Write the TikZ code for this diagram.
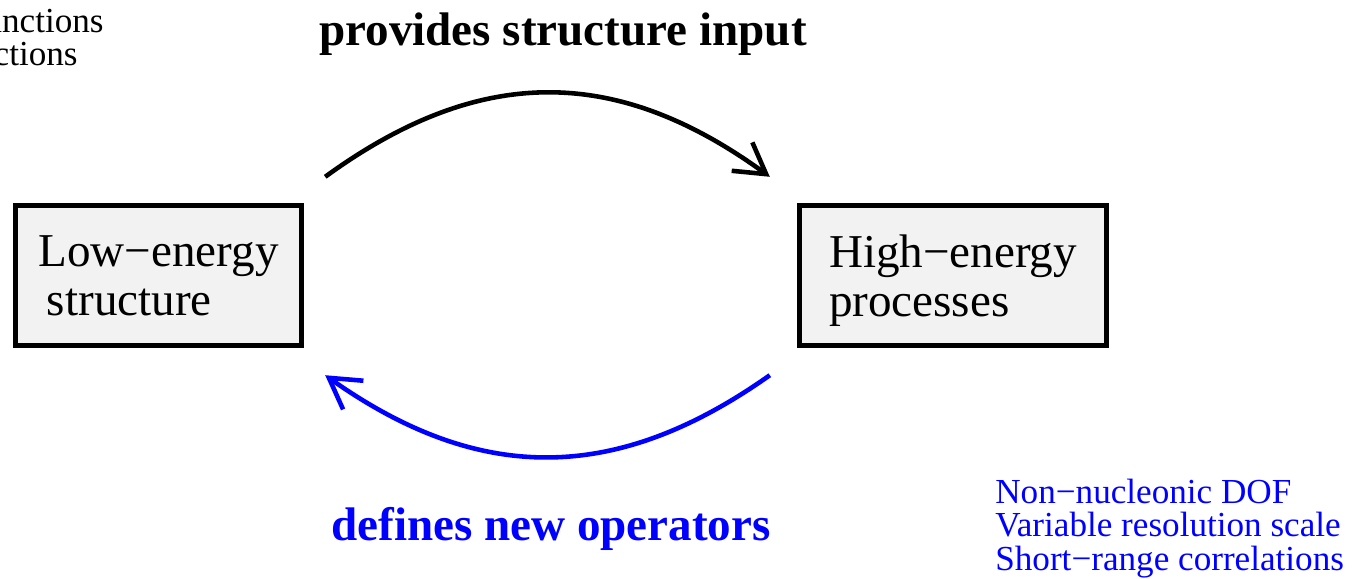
\documentclass[tikz,border=0pt]{standalone}
\usepackage{fontspec}
\setmainfont{Liberation Serif}
\usetikzlibrary{positioning,arrows.meta}
\tikzset{dbox/.style={draw, line width=3.1pt, fill=black!5, minimum height=2.8cm, align=left, inner sep=0pt, text depth=0pt, font=\fontsize{26.8}{27.8}\selectfont}}
\tikzset{arr/.style={draw, line width=2.6pt, -{Straight Barb[length=17pt,width=20pt]}}}
\tikzset{dlabel/.style={anchor=base, inner sep=0pt, font=\bfseries\fontsize{26.8}{27.2}\selectfont}}
\tikzset{dlist/.style={inner sep=0pt, align=left, font=\fontsize{20}{19}\selectfont}}

\begin{document}
\begin{tikzpicture}[x=0.02cm, y=-0.02cm]
	\useasboundingbox (0,0) rectangle (1355,578);
	\node[dbox, minimum width=5.72cm] (low) at (158.5,275.5) {Low−energy\\\hspace*{0.18em}structure};
	\node[dbox, minimum width=6.14cm] (high) at (953,275.5) {High−energy\\processes};
	% arcs between the two boxes
	\draw[arr] ([shift={(21,-26)}]low.north east) .. controls +(154,-112) and +(-154,-112) .. ([shift={(-27,-26)}]high.north west);
	\draw[arr, blue] ([shift={(-27,27)}]high.south west) .. controls +(-154,109) and +(154,109) .. ([shift={(21,27)}]low.south east);
	\node[dlabel] (prov) at (563,45) {provides structure input};
	\node[dlabel, text=blue] (defs) at (551,540) {defines new operators};
	\node[dlist, anchor=base west, text=blue] (dof) at (995,570) {Non−nucleonic DOF\\Variable resolution scale\\Short−range correlations};
	\node[dlist, anchor=base east] (fun) at (104,32) {unctions};
	\node[dlist, anchor=base east] (cti) at (78,65) {ctions};
\end{tikzpicture}
\end{document}
